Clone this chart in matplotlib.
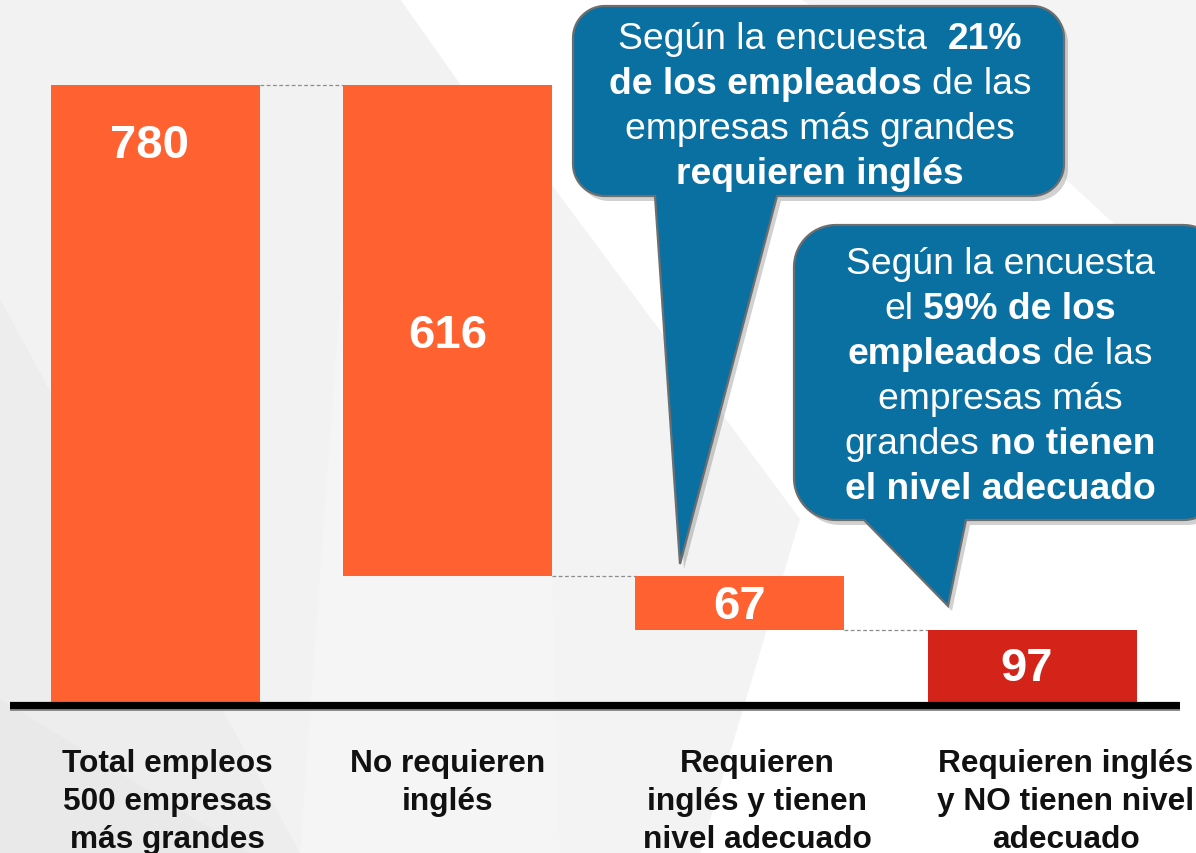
import numpy as np
import matplotlib
matplotlib.use('Agg')
import matplotlib.pyplot as plt
from matplotlib.patches import Polygon
from matplotlib.transforms import IdentityTransform

plt.rcParams['font.family'] = ['Liberation Sans', 'DejaVu Sans']

categorias = ['Total empleos\n500 empresas\nmás grandes',
              'No requieren\ninglés',
              'Requieren\ninglés y tienen\nnivel adecuado',
              'Requieren inglés\ny NO tienen nivel\nadecuado']
valores = [780, 616, 67, 97]
colores = ['#FF6230', '#FF6230', '#FF6230', '#D42419']

# waterfall: cada barra arranca donde termina la anterior
bases = [0, valores[0] - valores[1], valores[0] - valores[1] - valores[2], 0]

W, H = 1196, 854
fig = plt.figure(figsize=(W / 100, H / 100), dpi=100)
fig.patch.set_facecolor('white')

# fondo con facetas grises claras
bg = fig.add_axes([0, 0, 1, 1])
bg.set_xlim(0, W)
bg.set_ylim(H, 0)
bg.axis('off')
facetas = [
    ([(0, 0), (400, 0), (520, 170), (300, 854), (0, 854)], '#F2F2F2'),
    ([(0, 300), (300, 854), (0, 854)], '#EDEDED'),
    ([(340, 300), (540, 170), (620, 854), (300, 854)], '#F5F5F5'),
    ([(540, 170), (800, 520), (700, 854), (560, 854)], '#F3F3F3'),
    ([(800, 0), (1196, 0), (1196, 300), (1000, 120)], '#F4F4F4'),
    ([(0, 700), (250, 854), (0, 854)], '#E9E9E9'),
]
for pts, c in facetas:
    bg.add_patch(Polygon(pts, closed=True, facecolor=c, edgecolor='none'))

# ejes del grafico alineados con los pixeles de la referencia
px_x0, px_x1 = 10, 1180
cx0, paso = 155.5, 292.2
y0_px, escala = 708, (708 - 86) / 780
ax = fig.add_axes([px_x0 / W, 0, (px_x1 - px_x0) / W, 1])
ax.set_xlim(-(cx0 - px_x0) / paso, 3 + (px_x1 - (cx0 + 3 * paso)) / paso)
ax.set_ylim(-(H - y0_px) / escala, y0_px / escala)
ax.axis('off')
ax.patch.set_alpha(0)

x = np.arange(len(valores))
ax.bar(x, valores, bottom=bases, width=0.715, color=colores, zorder=3)

# linea base gruesa
ax.axhline(0, color='#8A8A8A', lw=5, zorder=2)
ax.axhline(3, color='black', lw=5.2, zorder=4)

# conectores punteados
niveles = [valores[0], bases[1], bases[2]]
for i, nivel in enumerate(niveles):
    ax.plot([x[i] + 0.357, x[i + 1] - 0.357], [nivel, nivel], ls=(0, (3, 2)),
            color='#8C8C8C', lw=0.9, zorder=2)

# etiquetas de valor
pos_etq = [valores[0] - 75, bases[1] + valores[1] / 2 - 6, bases[2] + valores[2] / 2 - 4,
           valores[3] / 2]
for i, v in enumerate(valores):
    dx = -0.02 if i in (0, 3) else 0
    ax.text(x[i] + dx, pos_etq[i], str(v), ha='center', va='center', color='white',
            fontsize=34, fontweight='bold', zorder=5)

# etiquetas de categoria
desplaz = [0.04, 0.0, 0.06, 0.115]
for i, lab in enumerate(categorias):
    ax.text(x[i] + desplaz[i], -52, lab, ha='center', va='top', fontsize=22.8,
            fontweight='bold', color='#111111', linespacing=1.34, zorder=5)


# los globos van encima de todo
top = fig.add_axes([0, 0, 1, 1])
top.set_xlim(0, W)
top.set_ylim(H, 0)
top.axis('off')
top.patch.set_alpha(0)


def globo(x0, y0, x1, y1, r, bl, br, tip):
    pts = []
    for cx, cy, a0, a1 in [(x0 + r, y0 + r, 180, 270), (x1 - r, y0 + r, 270, 360),
                           (x1 - r, y1 - r, 0, 90)]:
        a = np.radians(np.linspace(a0, a1, 20))
        pts += list(zip(cx + r * np.cos(a), cy + r * np.sin(a)))
    pts += [(br, y1), tip, (bl, y1)]
    a = np.radians(np.linspace(90, 180, 20))
    pts += list(zip(x0 + r + r * np.cos(a), y1 - r + r * np.sin(a)))
    pts = np.array(pts)
    sombra = pts + np.array([4, 5])
    top.add_patch(Polygon(sombra, closed=True, facecolor='#000000', alpha=0.18,
                          edgecolor='none', zorder=8))
    top.add_patch(Polygon(pts, closed=True, facecolor='#0A70A2', edgecolor='#6E6E6E',
                          lw=1.6, zorder=9))


globo(573, 7, 1064, 197, 32, 655, 777, (680, 565))
globo(794, 226, 1225, 521, 42, 864, 966, (948, 607))

renderer = fig.canvas.get_renderer()


def ancho(s, bold, size):
    t = fig.text(0, 0, s, fontsize=size, fontweight='bold' if bold else 'normal')
    w = t.get_window_extent(renderer).width
    t.remove()
    return w


def linea(xc, y, partes, size=26.8):
    esp = ancho('a a', False, size) - ancho('aa', False, size)
    anchos = [ancho(s, b, size) for s, b, _ in partes]
    total = sum(anchos) + sum(esp * n for _, _, n in partes[:-1])
    xx = xc - total / 2
    for (s, b, n), w in zip(partes, anchos):
        fig.text(xx, H - y, s, transform=IdentityTransform(), fontsize=size,
                 fontweight='bold' if b else 'normal', color='white',
                 ha='left', va='center', zorder=10)
        xx += w + esp * n


texto1 = [
    [('Según la encuesta', False, 2), ('21%', True, 0)],
    [('de los empleados', True, 1), ('de las', False, 0)],
    [('empresas más grandes', False, 0)],
    [('requieren inglés', True, 0)],
]
for k, partes in enumerate(texto1):
    linea(820, 40 + k * 45, partes)

texto2 = [
    [('Según la encuesta', False, 0)],
    [('el', False, 1), ('59% de los', True, 0)],
    [('empleados', True, 1), ('de las', False, 0)],
    [('empresas más', False, 0)],
    [('grandes', False, 1), ('no tienen', True, 0)],
    [('el nivel adecuado', True, 0)],
]
for k, partes in enumerate(texto2):
    linea(1000, 265 + k * 45, partes)

fig.savefig('out.png', dpi=100)
